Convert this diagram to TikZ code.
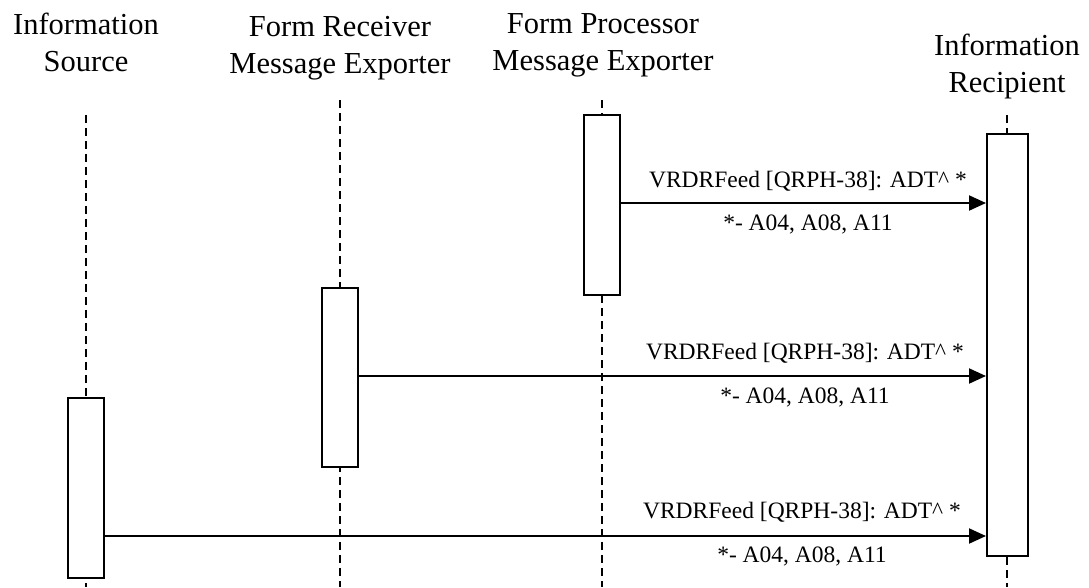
\documentclass[tikz,border=0pt]{standalone}
\usepackage{fontspec}
\setmainfont{Liberation Serif}
\usetikzlibrary{arrows.meta}
\begin{document}
\begin{tikzpicture}[x=1pt,y=-1pt,
  hdr/.style={font=\fontsize{30.5}{37}\selectfont, align=center, inner sep=0pt, anchor=base},
  lbl/.style={font=\fontsize{23.5}{28}\selectfont, inner sep=0pt, anchor=base},
  life/.style={line width=2pt, dash pattern=on 8pt off 5pt},
  actbox/.style={draw, line width=2pt, fill=white, minimum width=36pt, inner sep=0pt},
  msg/.style={line width=2pt, -{Triangle[length=17pt,width=15pt]}}]
\useasboundingbox (0,0) rectangle (1089,587);
% headers (base anchor = baseline of last line)
\node[hdr] (hs) at (86,71) {Information\\Source};
\node[hdr] (hr) at (340,73) {Form Receiver\\Message Exporter};
\node[hdr] (hp) at (603,70) {Form Processor\\Message Exporter};
\node[hdr] (hi) at (1007,92) {Information\\Recipient};
% lifeline coordinates
\coordinate (st) at (86,115);  \coordinate (sb) at (86,587);
\coordinate (rt) at (340,100); \coordinate (rb) at (340,587);
\coordinate (pt) at (602,100); \coordinate (pb) at (602,587);
\coordinate (it) at (1007,115); \coordinate (ib) at (1007,587);
\draw[life] (st) -- (sb);
\draw[life] (rt) -- (rb);
\draw[life] (pt) -- (pb);
\draw[life] (it) -- (ib);
% activation boxes
\node[actbox, minimum height=180pt] (sbox) at (86,488) {};
\node[actbox, minimum height=179pt] (rbox) at (340,377.5) {};
\node[actbox, minimum height=180pt] (pbox) at (602,205) {};
\node[actbox, minimum width=41pt, minimum height=422pt] (ibox) at (1007.5,345) {};
% message rows
\coordinate (m1) at (0,203);
\coordinate (m2) at (0,376);
\coordinate (m3) at (0,536);
\draw[msg] (pbox.east |- m1) -- (ibox.west |- m1);
\draw[msg] (rbox.east |- m2) -- (ibox.west |- m2);
\draw[msg] (sbox.east |- m3) -- (ibox.west |- m3);
% labels
\node[lbl] (l1a) at (808,187) {VRDRFeed [QRPH-38]: ADT\textasciicircum{} *};
\node[lbl] (l1b) at (808,230) {*- A04, A08, A11};
\node[lbl] (l2a) at (805,359) {VRDRFeed [QRPH-38]: ADT\textasciicircum{} *};
\node[lbl] (l2b) at (805,403) {*- A04, A08, A11};
\node[lbl] (l3a) at (802,518) {VRDRFeed [QRPH-38]: ADT\textasciicircum{} *};
\node[lbl] (l3b) at (802,562) {*- A04, A08, A11};
\end{tikzpicture}
\end{document}
